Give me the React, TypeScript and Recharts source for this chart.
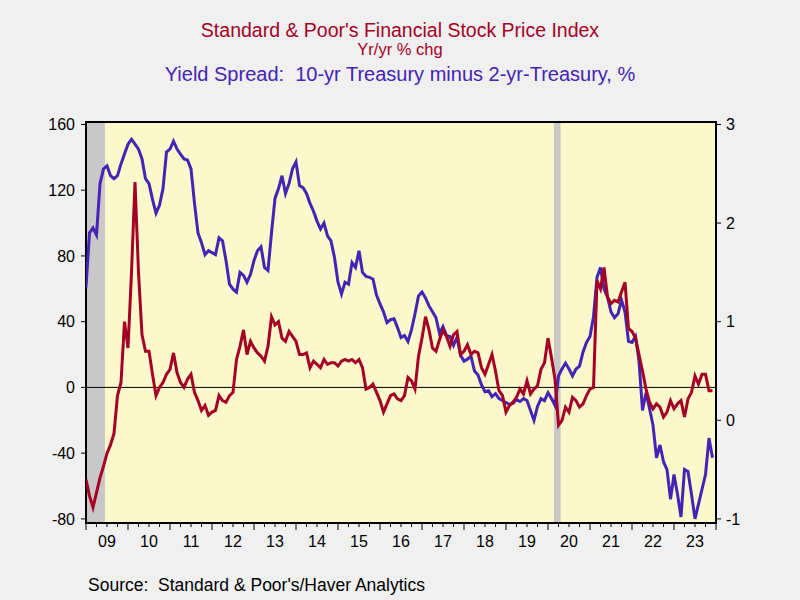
import React from "react";
import { Line, LineChart, ReferenceArea, ReferenceLine, XAxis, YAxis } from "recharts";

const START_YEAR = 2009;
const YEARS = [2009, 2010, 2011, 2012, 2013, 2014, 2015, 2016, 2017, 2018, 2019, 2020, 2021, 2022, 2023];

// S&P financials, yr/yr % chg, monthly from Jan 2009
const FIN_YOY = [
  -56, -66, -73, -64, -55, -48, -40, -35, -28, -5, 3, 40,
  24, 70, 125, 70, 32, 22, 22, 8, -5, 0, 3, 8,
  11, 21, 9, 3, 0, 5, 8, -3, -8, -14, -11, -17,
  -15, -14, -5, -8, -9, -5, -3, 17, 25, 35, 20, 28,
  24, 21, 19, 16, 25, 43, 38, 40, 30, 28, 34, 31,
  28, 20, 20, 21, 12, 16, 14, 12, 17, 14, 15, 15,
  13, 16, 17, 16, 17, 15, 17, 12, -1, 0, 2, -3,
  -8, -15, -10, -5, -4, -7, -8, -5, 6, 4, -1, 19,
  30, 43, 35, 24, 22, 29, 35, 31, 25, 32, 34, 20,
  22, 26, 20, 22, 21, 12, 8, 14, 20, 10, -2, -5,
  -15, -11, -9, -6, -1, -4, 4, -4, -1, 1, 11, 15,
  30, 18, 5, -23, -20, -12, -15, -6, -8, -12, -10, -5,
  -1, 0, 65, 60, 73, 55, 51, 53, 52, 58, 64, 36,
  34, 30, 20, 10, -1, -9, -13, -10, -12, -18, -15, -8,
  -13, -10, -8, -18, -7, -3, 7, 2, 8, 8, -2, -2,
];

// 10-yr minus 2-yr Treasury, %, monthly from Jan 2009
const SPREAD = [
  1.35, 1.9, 1.95, 1.88, 2.4, 2.55, 2.58, 2.48, 2.45, 2.48, 2.6, 2.7,
  2.8, 2.85, 2.8, 2.75, 2.65, 2.45, 2.4, 2.24, 2.1, 2.18, 2.35, 2.72,
  2.75, 2.83, 2.75, 2.7, 2.65, 2.64, 2.55, 2.2, 1.9, 1.8, 1.68, 1.72,
  1.7, 1.68, 1.85, 1.82, 1.62, 1.38, 1.33, 1.3, 1.5, 1.47, 1.4, 1.48,
  1.62, 1.72, 1.76, 1.55, 1.52, 1.9, 2.25, 2.35, 2.48, 2.3, 2.4, 2.55,
  2.62, 2.38, 2.36, 2.3, 2.2, 2.12, 2.02, 1.94, 2.0, 1.87, 1.82, 1.65,
  1.4, 1.28, 1.4, 1.38, 1.6, 1.55, 1.72, 1.5, 1.46, 1.45, 1.43, 1.27,
  1.18, 1.1, 0.99, 1.02, 1.03, 0.94, 0.84, 0.86, 0.8, 0.92, 1.08, 1.26,
  1.3, 1.24, 1.16, 1.1, 1.04, 0.88, 0.95, 0.86, 0.85, 0.76, 0.84, 0.66,
  0.6, 0.62, 0.65, 0.5, 0.46, 0.36, 0.29, 0.3, 0.24, 0.27, 0.22, 0.2,
  0.18, 0.16, 0.17, 0.21, 0.19, 0.22, 0.2, 0.1, 0.0, 0.14, 0.22, 0.2,
  0.28, 0.22, 0.15, 0.45, 0.52, 0.58, 0.52, 0.45, 0.52, 0.55, 0.69, 0.79,
  0.85, 1.05, 1.45, 1.55, 1.33, 1.25, 1.1, 1.04, 1.08, 1.22, 1.1, 0.8,
  0.79, 0.85, 0.6, 0.1, 0.28, 0.12, -0.05, -0.38, -0.25, -0.42, -0.5, -0.8,
  -0.55, -0.75, -0.98, -0.5, -0.52, -0.75, -1.0, -0.85, -0.7, -0.55, -0.18, -0.38,
];

const LEFT_TICKS = [-80, -40, 0, 40, 80, 120, 160];
const RIGHT_TICKS = [-1, 0, 1, 2, 3];
const RECESSIONS = [
  [2009, 2009.45],
  [2020.14, 2020.3],
];

const RED = "#A50026";
const BLUE = "#4324B4";
const PLOT_BG = "#FBF8CC";
const SHADE = "#C8C8C8";
const FONT = "'Liberation Sans', Arial, sans-serif";

const LEFT_DOMAIN = [-82.5, 161.5];
// right axis lines up with left: left = 60 * right - 20
const RIGHT_DOMAIN = [(LEFT_DOMAIN[0] + 20) / 60, (LEFT_DOMAIN[1] + 20) / 60];

const data = FIN_YOY.map((v, i) => ({ t: START_YEAR + i / 12, fin: v, spread: SPREAD[i] }));
const xTicks = [...YEARS.flatMap((y) => [y, y + 0.25, y + 0.5, y + 0.75]), YEARS[YEARS.length - 1] + 1];

function YearTick(props: any) {
  const { x, y, payload } = props;
  const v = payload.value as number;
  const frac = v - Math.floor(v);
  const major = frac < 1e-6;
  const mid = Math.abs(frac - 0.5) < 1e-6;
  return (
    <g>
      <line x1={x} x2={x} y1={y} y2={y + (major ? 7 : 4)} stroke="#000" strokeWidth={1} />
      {mid ? (
        <text x={x} y={y + 24} textAnchor="middle" fontSize={16} fontFamily={FONT} fill="#000">
          {String(Math.floor(v) % 100).padStart(2, "0")}
        </text>
      ) : null}
    </g>
  );
}

const tickStyle = { fill: "#000", fontSize: 16, fontFamily: FONT };

export default function App() {
  return (
    <div
      style={{
        position: "absolute",
        left: 0,
        top: 0,
        width: 800,
        height: 600,
        background: "#F0F0F0",
        fontFamily: FONT,
        overflow: "hidden",
      }}
    >
      <div style={{ position: "absolute", left: 0, width: 800, top: 20, textAlign: "center", lineHeight: "20px", fontSize: 19.5, color: RED }}>
        Standard &amp; Poor's Financial Stock Price Index
      </div>
      <div style={{ position: "absolute", left: 0, width: 800, top: 40, textAlign: "center", lineHeight: "18px", fontSize: 16.5, color: RED }}>
        Yr/yr % chg
      </div>
      <div style={{ position: "absolute", left: 0, width: 800, top: 63, textAlign: "center", lineHeight: "22px", fontSize: 20, color: BLUE, whiteSpace: "pre" }}>
        {"Yield Spread:  10-yr Treasury minus 2-yr-Treasury, %"}
      </div>
      <div style={{ position: "absolute", left: 88, top: 575, lineHeight: "20px", fontSize: 17.5, color: "#000", whiteSpace: "pre" }}>
        {"Source:  Standard & Poor's/Haver Analytics"}
      </div>
      <LineChart
        width={800}
        height={600}
        data={data}
        margin={{ top: 122, right: 44, bottom: 47, left: 26 }}
        style={{ position: "absolute", left: 0, top: 0 }}
      >
        <XAxis
          dataKey="t"
          type="number"
          domain={[YEARS[0], YEARS[YEARS.length - 1] + 1]}
          ticks={xTicks}
          interval={0}
          tickSize={0}
          tickMargin={0}
          tickLine={false}
          axisLine={false}
          height={30}
          tick={<YearTick />}
          allowDataOverflow
        />
        <YAxis
          yAxisId="left"
          domain={LEFT_DOMAIN}
          ticks={LEFT_TICKS}
          interval={0}
          width={60}
          tickSize={5}
          tickMargin={6}
          axisLine={false}
          tickLine={{ stroke: "#000" }}
          tick={tickStyle}
          allowDataOverflow
        />
        <YAxis
          yAxisId="right"
          orientation="right"
          domain={RIGHT_DOMAIN}
          ticks={RIGHT_TICKS}
          interval={0}
          width={40}
          tickSize={5}
          tickMargin={5}
          axisLine={false}
          tickLine={{ stroke: "#000" }}
          tick={tickStyle}
          allowDataOverflow
        />
        <ReferenceArea
          yAxisId="left"
          x1={YEARS[0]}
          x2={YEARS[YEARS.length - 1] + 1}
          y1={LEFT_DOMAIN[0]}
          y2={LEFT_DOMAIN[1]}
          fill={PLOT_BG}
          fillOpacity={1}
          stroke="none"
        />
        {RECESSIONS.map(([a, b]) => (
          <ReferenceArea
            key={a}
            yAxisId="left"
            x1={a}
            x2={b}
            y1={LEFT_DOMAIN[0]}
            y2={LEFT_DOMAIN[1]}
            fill={SHADE}
            fillOpacity={1}
            stroke="none"
          />
        ))}
        <ReferenceLine yAxisId="left" y={0} stroke="#000" strokeWidth={1} />
        <Line
          yAxisId="right"
          type="linear"
          dataKey="spread"
          stroke={BLUE}
          strokeWidth={3}
          dot={false}
          isAnimationActive={false}
        />
        <Line
          yAxisId="left"
          type="linear"
          dataKey="fin"
          stroke={RED}
          strokeWidth={3}
          dot={false}
          isAnimationActive={false}
        />
        <ReferenceArea
          yAxisId="left"
          x1={YEARS[0]}
          x2={YEARS[YEARS.length - 1] + 1}
          y1={LEFT_DOMAIN[0]}
          y2={LEFT_DOMAIN[1]}
          fill="none"
          stroke="#000"
          strokeWidth={2}
        />
      </LineChart>
    </div>
  );
}
